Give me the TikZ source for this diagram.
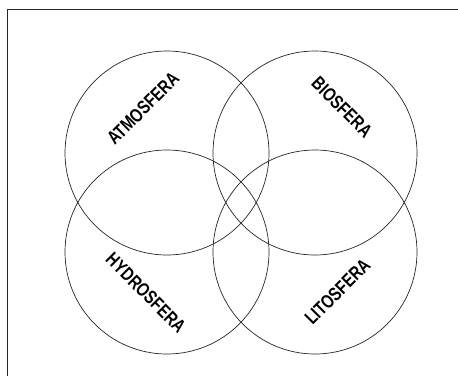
\documentclass[tikz,border=0pt]{standalone}
\usepackage{fontspec}
\usepackage{tikz}
\usetikzlibrary{positioning}
\newfontfamily\condfont[FakeStretch=0.78]{Liberation Sans Bold}

\begin{document}
\begin{tikzpicture}[
        x=1pt, y=-1pt,
        sphere/.style={circle, draw=black!85, line width=0.7pt, minimum size=204pt, inner sep=0pt},
        spherelabel/.style={font=\condfont\fontsize{19}{20}\selectfont, inner sep=0pt, text=black},
        frame/.style={draw=black!85, line width=1.6pt}
    ]
        \useasboundingbox (0,0) rectangle (458,376);

        % Frame (only top and left edges visible)
        \draw[frame] (7.5,376) -- (7.5,9.5) -- (458,9.5);

        % Spheres
        \node[sphere] (atmo) at (167,153) {};
        \node[sphere] (bio) at (315,153) {};
        \node[sphere] (hydro) at (167,252) {};
        \node[sphere] (lito) at (315,252) {};

        % Labels
        \node[spherelabel, rotate=45] (atmolabel) at (143,108.5) {ATMOSFERA};
        \node[spherelabel, rotate=-45] (biolabel) at (342,107) {BIOSFERA};
        \node[spherelabel, rotate=-45] (hydrolabel) at (146,293) {HYDROSFERA};
        \node[spherelabel, rotate=45] (litolabel) at (337.5,291.5) {LITOSFERA};
    \end{tikzpicture}
\end{document}
